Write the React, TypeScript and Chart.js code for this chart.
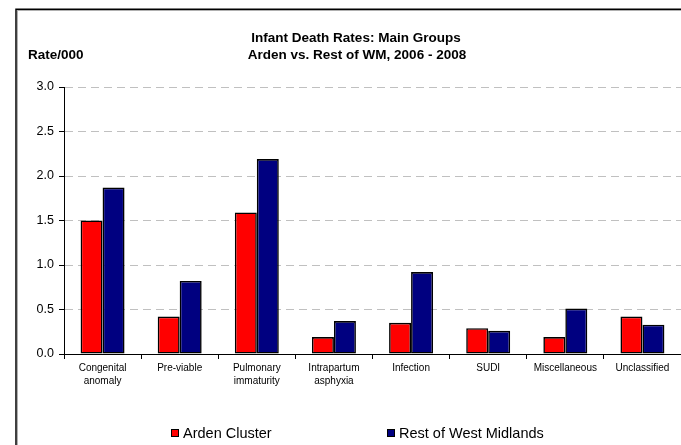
import React, { useEffect, useRef } from "react";
import { Chart, registerables } from "chart.js";

Chart.register(...registerables);

const categories: (string | string[])[] = [
  ["Congenital", "anomaly"],
  "Pre-viable",
  ["Pulmonary", "immaturity"],
  ["Intrapartum", "asphyxia"],
  "Infection",
  "SUDI",
  "Miscellaneous",
  "Unclassified",
];
const ardenValues = [1.5, 0.42, 1.59, 0.19, 0.35, 0.29, 0.19, 0.42];
const restWMValues = [1.87, 0.82, 2.19, 0.37, 0.92, 0.26, 0.51, 0.33];
const seriesNames = ["Arden Cluster", "Rest of West Midlands"];
const titleLines = ["Infant Death Rates: Main Groups", "Arden vs. Rest of WM, 2006 - 2008"];
const yAxisLabel = "Rate/000";

const FONT = "'Liberation Sans', Arial, sans-serif";

const decorPlugin = {
  id: "decor",
  beforeDraw(chart: any) {
    const ctx = chart.ctx;
    ctx.save();
    ctx.fillStyle = "#ffffff";
    ctx.fillRect(0, 0, chart.width, chart.height);
    ctx.strokeStyle = "#b0b0b0";
    ctx.lineWidth = 1;
    ctx.beginPath();
    ctx.moveTo(17.5, 11);
    ctx.lineTo(17.5, chart.height);
    ctx.moveTo(17, 10.5);
    ctx.lineTo(chart.width, 10.5);
    ctx.stroke();
    ctx.strokeStyle = "#000000";
    ctx.lineWidth = 1.5;
    ctx.beginPath();
    ctx.moveTo(16, 9);
    ctx.lineTo(16, chart.height);
    ctx.moveTo(15.25, 9.25);
    ctx.lineTo(chart.width, 9.25);
    ctx.stroke();
    ctx.restore();
  },
  afterDraw(chart: any) {
    const ctx = chart.ctx;
    ctx.save();
    ctx.fillStyle = "#000000";
    ctx.textBaseline = "middle";
    ctx.font = `bold 13.5px ${FONT}`;
    ctx.textAlign = "center";
    ctx.fillText(titleLines[0], 356, 38);
    ctx.fillText(titleLines[1], 357, 55.5);
    ctx.textAlign = "left";
    ctx.fillText(yAxisLabel, 28, 55.5);

    ctx.font = `14.5px ${FONT}`;
    const xs = [171, 387];
    chart.data.datasets.forEach((ds: any, i: number) => {
      const x = xs[i];
      const y = 433;
      ctx.fillStyle = ds.backgroundColor;
      ctx.fillRect(x, y - 4, 8, 8);
      ctx.strokeStyle = "#000";
      ctx.lineWidth = 1;
      ctx.strokeRect(x + 0.5, y - 3.5, 7, 7);
      ctx.fillStyle = "#000";
      ctx.fillText(ds.label, x + 12, y + 0.5);
    });
    ctx.restore();
  },
};

export default function App() {
  const ref = useRef<HTMLCanvasElement | null>(null);
  useEffect(() => {
    if (!ref.current) return;
    const chart = new Chart(ref.current, {
      type: "bar",
      data: {
        labels: categories,
        datasets: [
          {
            label: seriesNames[0],
            data: ardenValues,
            backgroundColor: "#ff0000",
            borderColor: "#000000",
            borderWidth: 1.6,
            borderSkipped: false,
          },
          {
            label: seriesNames[1],
            data: restWMValues,
            backgroundColor: "#000080",
            borderColor: "#000000",
            borderWidth: 1.6,
            borderSkipped: false,
          },
        ],
      },
      options: {
        responsive: false,
        animation: false,
        devicePixelRatio: 1,
        layout: { padding: { top: 87, left: 0, right: 0, bottom: 0 } },
        datasets: { bar: { categoryPercentage: 0.57, barPercentage: 1.0 } },
        plugins: {
          legend: { display: false },
          title: { display: false },
          tooltip: { enabled: false },
        },
        scales: {
          x: {
            offset: true,
            grid: {
              display: true,
              drawOnChartArea: false,
              offset: true,
              tickLength: 5,
              tickColor: "#000",
            },
            border: { display: true, color: "#000", width: 1 },
            ticks: {
              color: "#000",
              font: { family: FONT, size: 10, lineHeight: 1.3 },
              padding: 3,
              maxRotation: 0,
              autoSkip: false,
            },
            afterFit(scale: any) {
              scale.height = 91;
            },
          },
          y: {
            min: 0,
            max: 3,
            ticks: {
              stepSize: 0.5,
              color: "#000",
              font: { family: FONT, size: 12.5 },
              padding: 5,
              callback: (v: any) => Number(v).toFixed(1),
            },
            grid: {
              color: "#c0c0c0",
              tickLength: 5,
              tickColor: "#000",
              tickBorderDash: [],
            } as any,
            border: { display: true, color: "#000", width: 1, dash: [8, 5] } as any,
            afterFit(scale: any) {
              scale.width = 64;
            },
          },
        },
      },
      plugins: [decorPlugin],
    });
    return () => chart.destroy();
  }, []);
  return (
    <div style={{ position: "fixed", left: 0, top: 0, width: 681, height: 445, overflow: "hidden", background: "#fff" }}>
      <canvas ref={ref} width={681} height={445} style={{ display: "block" }} />
    </div>
  );
}
